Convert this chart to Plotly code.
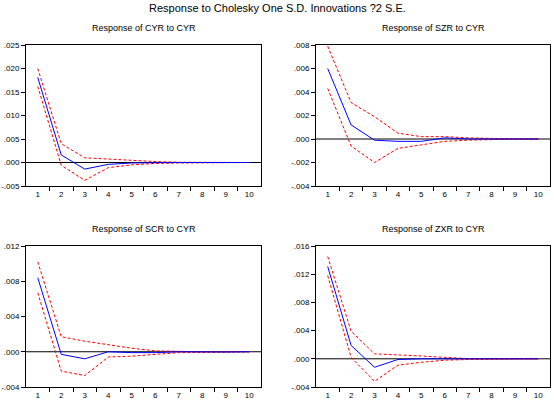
import plotly.graph_objects as go

# periods 1..10
periods = list(range(1, 11))

# Response of CYR to CYR
cyr_resp = [0.0181, 0.0016, -0.0014, -0.0004, -0.0001, 0.0000, 0.0000, 0.0000, 0.0000, 0.0000]
cyr_up = [0.0200, 0.0040, 0.0010, 0.0007, 0.0004, 0.0002, 0.00005, 0.0000, 0.0000, 0.0000]
cyr_lo = [0.0162, -0.0006, -0.0038, -0.0011, -0.0005, -0.0002, -0.0001, -0.00005, 0.0000, 0.0000]

# Response of SZR to CYR
szr_resp = [0.0060, 0.0012, -0.0001, -0.0002, -0.0002, 0.0001, 0.0000, 0.0000, 0.0000, 0.0000]
szr_up = [0.0079, 0.0031, 0.0019, 0.0005, 0.0002, 0.0002, 0.0001, 0.00003, 0.0000, 0.0000]
szr_lo = [0.0043, -0.0006, -0.0020, -0.0008, -0.0005, -0.0002, -0.0001, -0.00003, 0.0000, 0.0000]

# Response of SCR to CYR
scr_resp = [0.0084, -0.0003, -0.0008, 0.0000, -0.0001, -0.0001, 0.0000, -0.00003, -0.00003, 0.0000]
scr_up = [0.0102, 0.0017, 0.0012, 0.0008, 0.0004, 0.0001, 0.00003, 0.0000, 0.0000, 0.0000]
scr_lo = [0.0067, -0.0022, -0.0027, -0.0006, -0.0005, -0.0003, -0.0001, -0.00008, -0.00005, 0.0000]

# Response of ZXR to CYR
zxr_resp = [0.0131, 0.0019, -0.0012, -0.0001, 0.0000, 0.0000, 0.0000, 0.0000, 0.0000, 0.0000]
zxr_up = [0.0145, 0.0039, 0.0007, 0.0006, 0.0004, 0.0002, 0.00003, 0.0000, 0.0000, 0.0000]
zxr_lo = [0.0118, 0.0002, -0.0032, -0.0009, -0.0005, -0.0002, -0.0001, -0.00005, 0.0000, 0.0000]

titles = ["Response of CYR to CYR", "Response of SZR to CYR",
          "Response of SCR to CYR", "Response of ZXR to CYR"]
main_title = "Response to Cholesky One S.D. Innovations ?2 S.E."

ytick_cyr = [-0.005, 0.000, 0.005, 0.010, 0.015, 0.020, 0.025]
ytext_cyr = ["-.005", ".000", ".005", ".010", ".015", ".020", ".025"]
ytick_szr = [-0.004, -0.002, 0.000, 0.002, 0.004, 0.006, 0.008]
ytext_szr = ["-.004", "-.002", ".000", ".002", ".004", ".006", ".008"]
ytick_scr = [-0.004, 0.000, 0.004, 0.008, 0.012]
ytext_scr = ["-.004", ".000", ".004", ".008", ".012"]
ytick_zxr = [-0.004, 0.000, 0.004, 0.008, 0.012, 0.016]
ytext_zxr = ["-.004", ".000", ".004", ".008", ".012", ".016"]

W, H = 554, 402
FONT = "Liberation Sans, Arial, sans-serif"

# plot boxes in pixels: (left, right, top, bottom)
boxes = [(26, 261, 45, 186), (316, 550, 45, 186),
         (26, 261, 246, 387), (316, 550, 246, 387)]

panels = [
    (cyr_resp, cyr_up, cyr_lo, ytick_cyr, ytext_cyr),
    (szr_resp, szr_up, szr_lo, ytick_szr, ytext_szr),
    (scr_resp, scr_up, scr_lo, ytick_scr, ytext_scr),
    (zxr_resp, zxr_up, zxr_lo, ytick_zxr, ytext_zxr),
]

fig = go.Figure()
annotations = []
shapes = []

for i, (resp, up, lo, yt, ytt) in enumerate(panels):
    n = "" if i == 0 else str(i + 1)
    xa, ya = "x" + n, "y" + n
    for band in (up, lo):
        fig.add_trace(go.Scatter(x=periods, y=band, mode="lines", xaxis=xa, yaxis=ya,
                                 line=dict(color="#FF0000", width=1, dash="3px,2px"),
                                 showlegend=False, hoverinfo="skip"))
    fig.add_trace(go.Scatter(x=periods, y=resp, mode="lines", xaxis=xa, yaxis=ya,
                             line=dict(color="#0000FF", width=1),
                             showlegend=False))

    l, r, t, b = boxes[i]
    axis_common = dict(showline=True, linecolor="black", linewidth=1, mirror=True,
                       showgrid=False, zeroline=False, automargin=False,
                       tickfont=dict(family=FONT, size=8, color="black"))
    fig.layout["xaxis" + n] = dict(
        domain=[l / W, r / W], anchor=ya, range=[0.5, 10.5],
        tickvals=periods, ticktext=[str(p) for p in periods], ticks="",
        minor=dict(tickvals=[p + 0.5 for p in periods[:-1]], ticks="outside",
                   ticklen=4, tickcolor="black"),
        **axis_common)
    fig.layout["yaxis" + n] = dict(
        domain=[1 - b / H, 1 - t / H], anchor=xa, range=[yt[0], yt[-1]],
        tickvals=yt, ticktext=ytt, ticks="outside", ticklen=4, tickcolor="black",
        **axis_common)

    shapes.append(dict(type="line", xref=xa, yref=ya, x0=0.5, x1=10.5, y0=0, y1=0,
                       line=dict(color="black", width=1), layer="below"))
    annotations.append(dict(text=titles[i], xref="paper", yref="paper",
                            x=(l + r) / 2 / W, y=1 - (t - 17) / H, showarrow=False,
                            xanchor="center", yanchor="middle",
                            font=dict(family=FONT, size=9, color="black")))

annotations.append(dict(text=main_title, xref="paper", yref="paper",
                        x=0.5, y=1 - 8 / H, showarrow=False,
                        xanchor="center", yanchor="middle",
                        font=dict(family=FONT, size=11, color="black")))

fig.update_layout(width=W, height=H, margin=dict(l=0, r=0, t=0, b=0),
                  paper_bgcolor="white", plot_bgcolor="white",
                  annotations=annotations, shapes=shapes)

# page body has a default 8px margin; drop it so the figure fills the window
fig.write_html("out.html", config={"displayModeBar": False},
               post_script="document.body.style.margin='0';")
